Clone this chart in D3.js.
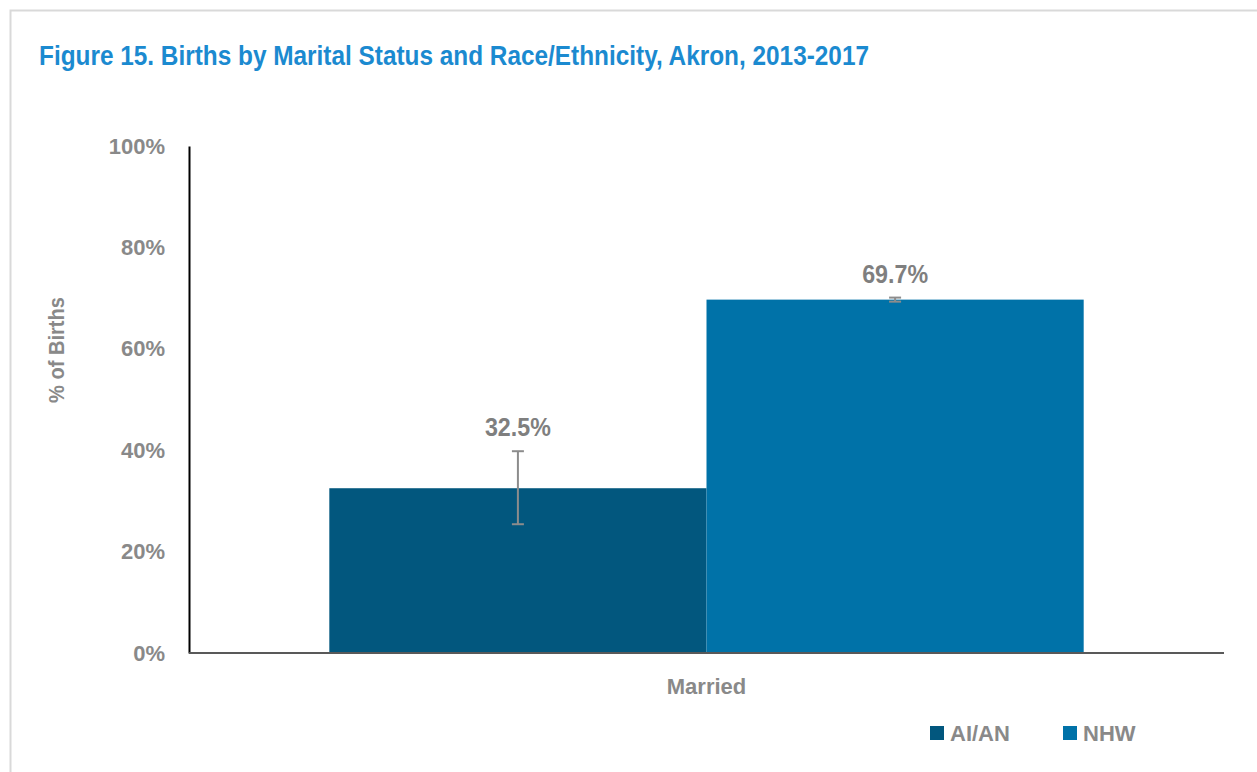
<!DOCTYPE html>
<html>
<head>
<meta charset="utf-8">
<script src="https://cdn.jsdelivr.net/npm/d3@7"></script>
<style>
  html, body { margin: 0; padding: 0; background: #fff; }
  svg { display: block; }
  text { font-family: "Liberation Sans", Arial, sans-serif; font-weight: bold; }
</style>
</head>
<body>
<svg id="chart" width="1257" height="772"></svg>
<script>
const categories = ["Married"];
const seriesNames = ["AI/AN", "NHW"];
const seriesColors = ["#02577e", "#0072a8"];
const values = [32.5, 69.7];
const errLow = [25.4, 69.3];
const errHigh = [39.8, 70.1];
const yTicks = [0, 20, 40, 60, 80, 100];

const svg = d3.select("#chart");
const W = 1257, H = 772;
const plot = {left: 189, right: 1224, top: 146, bottom: 653};

// condense text horizontally to imitate a narrow font
function condense(sel, ratio) {
  sel.each(function() {
    const w = this.getComputedTextLength();
    d3.select(this).attr("textLength", w * ratio).attr("lengthAdjust", "spacingAndGlyphs");
  });
}

// outer frame
svg.append("rect").attr("x", 10.5).attr("y", 10.5).attr("width", W + 20).attr("height", H + 20)
  .attr("fill", "none").attr("stroke", "#d9d9d9").attr("stroke-width", 2);

// title
svg.append("text").attr("x", 39).attr("y", 65)
  .attr("fill", "#1b8ad0").attr("font-size", 28)
  .text("Figure 15. Births by Marital Status and Race/Ethnicity, Akron, 2013-2017")
  .call(sel => sel.attr("textLength", 830).attr("lengthAdjust", "spacingAndGlyphs"));

const y = d3.scaleLinear().domain([0, 100]).range([plot.bottom, plot.top]);
const x0 = d3.scaleBand().domain(categories).range([plot.left, plot.right]).paddingInner(0).paddingOuter(0.186);
const x1 = d3.scaleBand().domain(seriesNames).range([0, x0.bandwidth()]).padding(0);

// bars
const g = svg.append("g");
categories.forEach(cat => {
  seriesNames.forEach((s, i) => {
    const bx = x0(cat) + x1(s);
    g.append("rect").attr("x", bx).attr("y", y(values[i]))
      .attr("width", x1.bandwidth()).attr("height", y(0) - y(values[i]))
      .attr("fill", seriesColors[i]);
    const cx = bx + x1.bandwidth() / 2;
    // error bars
    const eg = g.append("g").attr("stroke", "#8c8c8c").attr("stroke-width", 2);
    eg.append("line").attr("x1", cx).attr("x2", cx).attr("y1", y(errLow[i])).attr("y2", y(errHigh[i]));
    eg.append("line").attr("x1", cx - 6).attr("x2", cx + 6).attr("y1", y(errLow[i])).attr("y2", y(errLow[i]));
    eg.append("line").attr("x1", cx - 6).attr("x2", cx + 6).attr("y1", y(errHigh[i])).attr("y2", y(errHigh[i]));
    // label
    g.append("text").attr("x", cx).attr("y", y(errHigh[i]) - 15)
      .attr("text-anchor", "middle").attr("fill", "#7f7f7f").attr("font-size", 25)
      .text(values[i].toFixed(1) + "%")
      .call(condense, 0.93);
  });
});

// y axis
const yAxis = d3.axisLeft(y).tickValues(yTicks).tickSize(0).tickPadding(24).tickFormat(d => d + "%");
const ya = svg.append("g").attr("transform", `translate(${plot.left},0)`).call(yAxis);
ya.select(".domain").attr("stroke", "#000").attr("stroke-width", 2);
ya.selectAll("text").attr("fill", "#898989").attr("font-size", 22)
  .style("font-family", "'Liberation Sans', Arial, sans-serif").style("font-weight", "bold");

// x axis
const xAxis = d3.axisBottom(x0).tickSize(0).tickPadding(25);
const xa = svg.append("g").attr("transform", `translate(0,${plot.bottom})`).call(xAxis);
xa.select(".domain").attr("stroke", "#595959").attr("stroke-width", 2)
  .attr("d", `M${plot.left},0H${plot.right}`);
xa.selectAll("text").attr("fill", "#898989").attr("font-size", 22)
  .style("font-family", "'Liberation Sans', Arial, sans-serif").style("font-weight", "bold");

// y axis title
svg.append("text").attr("transform", "translate(64,350) rotate(-90)")
  .attr("text-anchor", "middle").attr("fill", "#898989").attr("font-size", 22)
  .text("% of Births")
  .call(sel => sel.attr("textLength", 106).attr("lengthAdjust", "spacingAndGlyphs"));

// legend
const legendX = [930, 1063];
seriesNames.forEach((s, i) => {
  svg.append("rect").attr("x", legendX[i]).attr("y", 726).attr("width", 14).attr("height", 14).attr("fill", seriesColors[i]);
  svg.append("text").attr("x", legendX[i] + 20).attr("y", 741).attr("fill", "#898989").attr("font-size", 22).text(s);
});
</script>
</body>
</html>
